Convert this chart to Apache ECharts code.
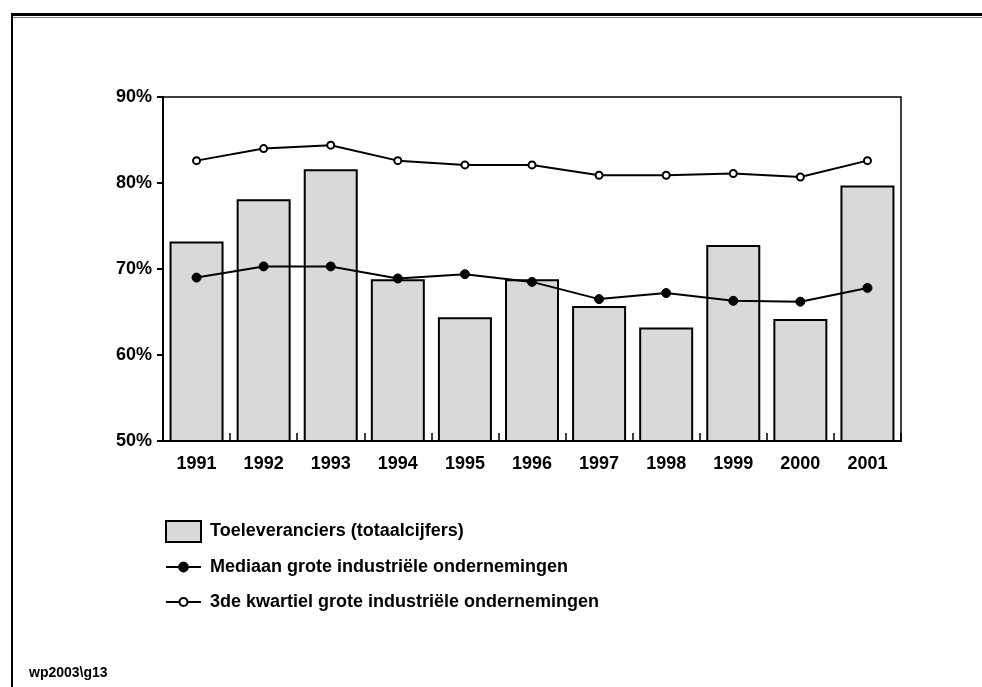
<!DOCTYPE html>
<html>
<head>
<meta charset="utf-8">
<script src="https://cdn.jsdelivr.net/npm/echarts@6/dist/echarts.min.js"></script>
<style>
    html, body { margin: 0; padding: 0; background: #fff; }
    #chart { width: 982px; height: 687px; }
</style>
</head>
<body>
<div id="chart"></div>
<script>
    // jaren
    const years = ['1991', '1992', '1993', '1994', '1995', '1996', '1997', '1998', '1999', '2000', '2001'];
    // Toeleveranciers (totaalcijfers), in %
    const toeleveranciers = [73.2, 78.1, 81.6, 68.8, 64.4, 68.8, 65.7, 63.2, 72.8, 64.2, 79.7];
    // mediaan grote industriële ondernemingen
    const mediaan = [69.0, 70.3, 70.3, 68.9, 69.4, 68.5, 66.5, 67.2, 66.3, 66.2, 67.8];
    // 3de kwartiel grote industriële ondernemingen
    const kwartiel3 = [82.6, 84.0, 84.4, 82.6, 82.1, 82.1, 80.9, 80.9, 81.1, 80.7, 82.6];

    const names = [
        'Toeleveranciers (totaalcijfers)',
        'Mediaan grote industriële ondernemingen',
        '3de kwartiel grote industriële ondernemingen'
    ];

    const font = '"Liberation Sans", Arial, sans-serif';
    const legendText = { fontFamily: font, fontWeight: 'bold', fontSize: 18, color: '#000', padding: [0, 0, 0, 4] };

    const option = {
        animation: false,
        backgroundColor: '#fff',
        graphic: [
            // kader
            { type: 'rect', shape: { x: 11, y: 13, width: 971, height: 3 }, style: { fill: '#000' } },
            { type: 'rect', shape: { x: 13, y: 17, width: 969, height: 1 }, style: { fill: '#777' } },
            { type: 'rect', shape: { x: 11, y: 13, width: 2, height: 674 }, style: { fill: '#000' } },
            {
                type: 'text', left: 29, top: 666,
                style: { text: 'wp2003\\g13', fontFamily: font, fontWeight: 'bold', fontSize: 14, fill: '#000' }
            }
        ],
        grid: {
            left: 163, top: 97, right: 81, bottom: 246,
            show: true, borderColor: '#000', borderWidth: 1.5, backgroundColor: 'transparent'
        },
        legend: [
            {
                data: [{ name: names[0], icon: 'rect' }], left: 165, top: 520, orient: 'vertical', padding: 0,
                itemWidth: 35, itemHeight: 21, textStyle: legendText, selectedMode: false
            },
            {
                data: [names[1]], left: 165, top: 558, orient: 'vertical', padding: 0,
                itemWidth: 35, itemHeight: 11, textStyle: legendText, selectedMode: false
            },
            {
                data: [names[2]], left: 165, top: 593, orient: 'vertical', padding: 0,
                itemWidth: 35, itemHeight: 10, textStyle: legendText, selectedMode: false
            }
        ],
        xAxis: {
            type: 'category',
            data: years,
            axisLine: { lineStyle: { color: '#000', width: 2 } },
            axisTick: { show: true, inside: true, length: 8, lineStyle: { color: '#000', width: 1.5 } },
            axisLabel: { fontFamily: font, fontWeight: 'bold', fontSize: 18, color: '#000', margin: 14 }
        },
        yAxis: {
            type: 'value',
            min: 50, max: 90, interval: 10,
            axisLine: { show: true, lineStyle: { color: '#000', width: 2 } },
            axisTick: { show: true, length: 6, lineStyle: { color: '#000', width: 2 } },
            splitLine: { show: false },
            axisLabel: {
                formatter: '{value}%',
                fontFamily: font, fontWeight: 'bold', fontSize: 18, color: '#000', margin: 11
            }
        },
        series: [
            {
                name: names[0],
                type: 'bar',
                data: toeleveranciers,
                barWidth: 54,
                itemStyle: { color: '#d9d9d9', borderColor: '#000', borderWidth: 2 }
            },
            {
                name: names[1],
                type: 'line',
                data: mediaan,
                symbol: 'circle',
                symbolSize: 9,
                lineStyle: { color: '#000', width: 2 },
                itemStyle: { color: '#000', borderColor: '#000', borderWidth: 1 }
            },
            {
                name: names[2],
                type: 'line',
                data: kwartiel3,
                symbol: 'circle',
                symbolSize: 7,
                lineStyle: { color: '#000', width: 2 },
                itemStyle: { color: '#fff', borderColor: '#000', borderWidth: 2 }
            }
        ]
    };

    const myChart = echarts.init(document.getElementById('chart'));
    myChart.setOption(option);
</script>
</body>
</html>
